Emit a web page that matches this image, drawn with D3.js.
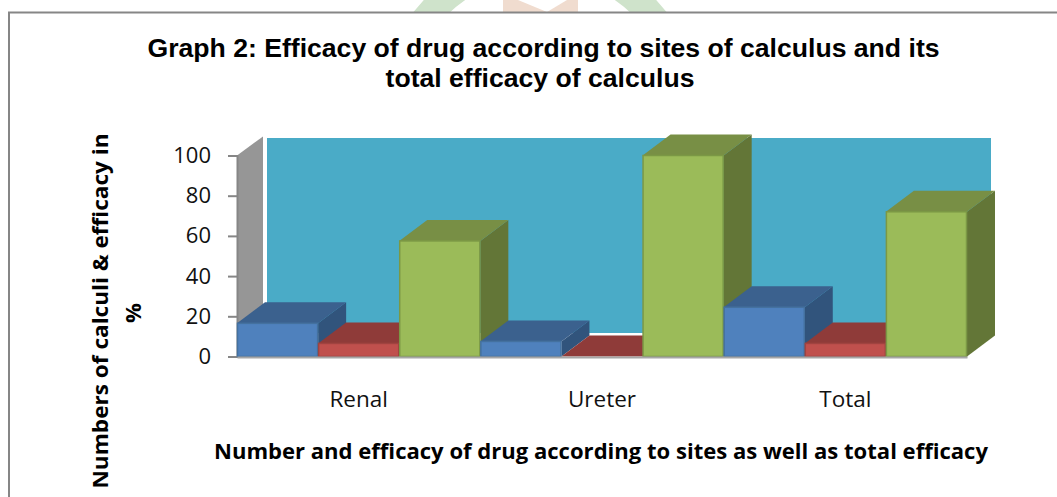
<!DOCTYPE html>
<html>
<head>
<meta charset="utf-8">
<script src="https://cdn.jsdelivr.net/npm/d3@7"></script>
<style>
    html, body { margin: 0; padding: 0; background: #fff; }
    svg { display: block; }
</style>
</head>
<body>
<div id="chart"></div>
<script>
const categories = ["Renal", "Ureter", "Total"];
const seriesNames = ["Series1", "Series2", "Series3"];
const series1 = [16.5, 7.5, 24.5];
const series2 = [6.5, 0, 6.5];
const series3 = [57.5, 100, 72];
const yTicks = [0, 20, 40, 60, 80, 100];
const seriesValues = [series1, series2, series3];

const frontColors = ["#4f81bd", "#c0504d", "#9bbb59"];
const topColors   = ["#3b618e", "#8f3b39", "#788f45"];
const sideColors  = ["#31547c", "#7f3331", "#637637"];
const edgeColors  = ["#44719f", "#a04340", "#7b9845"];

const outerWidth  = 1057;
const outerHeight = 497;
const depthX = 28, depthY = 21;

const svg = d3.select("#chart").append("svg")
    .attr("width",  outerWidth)
    .attr("height", outerHeight);

const yScale = d3.scaleLinear()
    .domain([0, 100])
    .range([356.5, 155.5]);

const xScale = d3.scaleBand()
    .domain(categories)
    .range([237, 967]);

const barScale = d3.scaleBand()
    .domain(seriesNames)
    .range([0, xScale.bandwidth()]);

// faded watermark peeking over the frame
const mark = svg.append("g");
mark.append("circle")
    .attr("cx", 540).attr("cy", 110).attr("r", 146.5)
    .attr("fill", "none").attr("stroke", "#cfe3cb").attr("stroke-width", 27);
mark.append("path")
    .attr("d", "M503,0 L578,0 L578,12 L503,12 Z")
    .attr("fill", "#f0dccf");
mark.append("path")
    .attr("d", "M518,0 L567,0 L547,12 Z")
    .attr("fill", "#fff");

svg.append("rect")
    .attr("x", 0).attr("y", 13).attr("width", outerWidth).attr("height", outerHeight)
    .attr("fill", "#fff");

// frame: left and top only, the rest runs off the crop
svg.append("path")
    .attr("d", "M9,497 L9,12.5 L1057,12.5")
    .attr("fill", "none").attr("stroke", "#868686").attr("stroke-width", 2);

svg.append("text")
    .attr("text-anchor", "middle")
    .style("font", "bold 26.6px 'Liberation Sans'")
    .selectAll("tspan")
    .data(["Graph 2: Efficacy of drug according to sites of calculus and its", "total efficacy of calculus"])
    .enter().append("tspan")
    .attr("x", (d, i) => i == 0 ? 543.5 : 540)
    .attr("y", (d, i) => 57 + i * 30)
    .text(d => d);

// back wall and left wall
svg.append("rect")
    .attr("x", 267)
    .attr("y", 138)
    .attr("width", 724)
    .attr("height", 195)
    .attr("fill", "#4aabc7");

svg.append("polygon")
    .attr("points", [[237, yScale(100)], [263, yScale(100) - 19], [263, yScale(0) - depthY], [237, yScale(0)]].join(" "))
    .attr("fill", "#969696");

const yAxis = d3.axisLeft(yScale).tickValues(yTicks).tickSize(9).tickPadding(17);
const yG = svg.append("g")
    .attr("transform", "translate(237,0)")
    .call(yAxis);
yG.selectAll("path, line").attr("stroke", "#868686").attr("stroke-width", 2);
yG.selectAll("text")
    .attr("fill", "#111")
    .style("font", "22px 'Open Sans'");

// bars go left to right so each one paints over the side of the previous one
categories.forEach((cat, c) => {
    seriesValues.forEach((values, s) => {
        const x0 = xScale(cat) + barScale(seriesNames[s]);
        const x1 = x0 + barScale.bandwidth();
        const y0 = yScale(0);
        const y1 = yScale(values[c]);
        const g = svg.append("g");

        g.append("polygon")
            .attr("points", [[x1, y1], [x1 + depthX, y1 - depthY], [x1 + depthX, y0 - depthY], [x1, y0]].join(" "))
            .attr("fill", sideColors[s]);
        g.append("polygon")
            .attr("points", [[x0, y1], [x0 + depthX, y1 - depthY], [x1 + depthX, y1 - depthY], [x1, y1]].join(" "))
            .attr("fill", topColors[s]);
        if (values[c] > 0) {
            g.append("rect")
                .attr("x", x0 + 0.5)
                .attr("y", y1)
                .attr("width", x1 - x0 - 1)
                .attr("height", y0 - y1)
                .attr("fill", frontColors[s])
                .attr("stroke", edgeColors[s])
                .attr("stroke-width", 1.5);
        }
    });
});

const xAxis = d3.axisBottom(xScale).tickSize(0).tickPadding(34);
const xG = svg.append("g")
    .attr("transform", "translate(0,357)")
    .call(xAxis);
xG.select("path").attr("stroke", "#a6a6a6").attr("stroke-width", 2);
xG.selectAll("text")
    .attr("fill", "#111")
    .style("font", "22.5px 'Open Sans'");

svg.append("text")
    .attr("x", 601)
    .attr("y", 459)
    .attr("text-anchor", "middle")
    .attr("textLength", 774)
    .attr("lengthAdjust", "spacingAndGlyphs")
    .style("font", "bold 22px 'Open Sans'")
    .text("Number and efficacy of drug according to sites as well as total efficacy");

svg.append("text")
    .attr("transform", "translate(108,311) rotate(-90)")
    .attr("text-anchor", "middle")
    .attr("textLength", 355)
    .attr("lengthAdjust", "spacingAndGlyphs")
    .style("font", "bold 22px 'Open Sans'")
    .text("Numbers  of calculi & efficacy in");

svg.append("text")
    .attr("transform", "translate(141,313) rotate(-90)")
    .attr("text-anchor", "middle")
    .style("font", "bold 22px 'Open Sans'")
    .text("%");
</script>
</body>
</html>
